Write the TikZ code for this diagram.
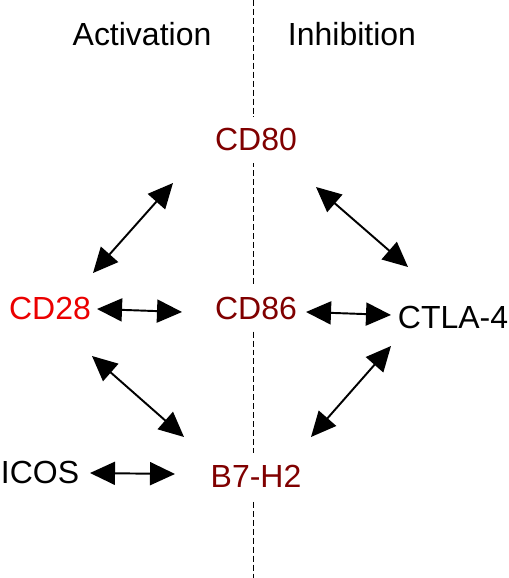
\documentclass[tikz,border=0pt]{standalone}
\usepackage{fontspec}
\setmainfont{Liberation Sans}
\usetikzlibrary{arrows.meta}

\definecolor{ligandred}{RGB}{128,0,0}
\definecolor{receptorred}{RGB}{235,0,0}

\tikzset{
  molecule/.style={font=\fontsize{18.2}{22}\selectfont, inner sep=0pt},
  ligand/.style={molecule, text=ligandred, fill=white, inner xsep=2pt, inner ysep=0.24cm},
  binds/.style={line width=1.1pt,
    {Triangle[length=0.5cm,width=0.46cm]}-{Triangle[length=0.5cm,width=0.46cm]}},
  divider/.style={line width=0.8pt, dash pattern=on 3.4pt off 1.7pt}
}

\begin{document}
\begin{tikzpicture}
  \useasboundingbox (0,0) rectangle (10.16,11.56);

  % dividing line between the two sides
  \coordinate (top) at (5.07,11.56);
  \coordinate (bottom) at (5.07,0);
  \draw[divider] (top) -- (bottom);

  \node[molecule] (act) at (2.84,10.88) {Activation};
  \node[molecule] (inh) at (7.04,10.88) {Inhibition};

  \node[ligand] (cd80) at (5.12,8.76) {CD80};
  \node[ligand] (cd86) at (5.12,5.40) {CD86};
  \node[ligand] (b7h2) at (5.12,2.04) {B7-H2};

  \node[molecule, text=receptorred] (cd28) at (1.00,5.40) {CD28};
  \node[molecule] (ctla) at (9.06,5.22) {CTLA-4};
  \node[molecule] (icos) at (0.80,2.11) {ICOS};

  % activating side
  \draw[binds] ([shift={(0.86,0.70)}]cd28.center) -- ([shift={(-1.66,-0.86)}]cd80.center);
  \draw[binds] ([shift={(0.94,-0.02)}]cd28.center) -- ([shift={(-1.48,-0.08)}]cd86.center);
  \draw[binds] ([shift={(0.84,-0.96)}]cd28.center) -- ([shift={(-1.44,0.78)}]b7h2.center);
  \draw[binds] ([shift={(1.00,-0.01)}]icos.center) -- ([shift={(-1.62,0.04)}]b7h2.center);

  % inhibiting side
  \draw[binds] ([shift={(1.20,-0.94)}]cd80.center) -- ([shift={(-0.90,1.00)}]ctla.center);
  \draw[binds] ([shift={(1.00,-0.08)}]cd86.center) -- ([shift={(-1.24,0.04)}]ctla.center);
  \draw[binds] ([shift={(1.10,0.78)}]b7h2.center) -- ([shift={(-1.24,-0.58)}]ctla.center);
\end{tikzpicture}
\end{document}
